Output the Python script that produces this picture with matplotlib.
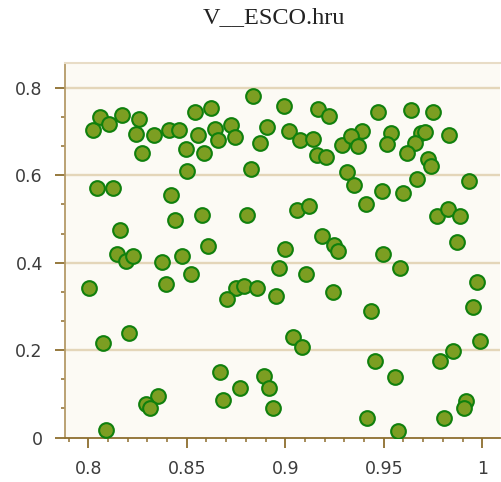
import numpy as np
import matplotlib
matplotlib.use('Agg')
from matplotlib import pyplot as plt
from matplotlib.ticker import MultipleLocator, FuncFormatter

# V__ESCO.hru sample values (x) vs objective (y)
esco_x = [0.8025, 0.8059, 0.8107, 0.8173, 0.8256, 0.8244, 0.8335, 0.8410, 0.8459, 0.8540,
          0.8273, 0.8494, 0.8558, 0.8586, 0.8503, 0.8043, 0.8124, 0.8420, 0.8439, 0.8576,
          0.8162, 0.8835, 0.8623, 0.8992, 0.9168, 0.9223, 0.8643, 0.8724, 0.8660, 0.8745,
          0.8909, 0.8873, 0.9020, 0.9075, 0.9139, 0.9159, 0.9205, 0.9286, 0.8826, 0.8807,
          0.9058, 0.9122, 0.9186, 0.9249, 0.9269, 0.8998, 0.8608, 0.9472, 0.9638, 0.9750,
          0.9388, 0.9333, 0.9371, 0.9537, 0.9518, 0.9689, 0.9709, 0.9658, 0.9619, 0.9831,
          0.9723, 0.9740, 0.9312, 0.9350, 0.9489, 0.9599, 0.9667, 0.9934, 0.9408, 0.9769,
          0.9824, 0.9887, 0.9870, 0.9498, 0.8144, 0.8191, 0.8228, 0.8374, 0.8475, 0.8523,
          0.8005, 0.8393, 0.8207, 0.8077, 0.8352, 0.8292, 0.8313, 0.8088, 0.8970, 0.9104,
          0.8749, 0.8789, 0.8855, 0.8706, 0.8953, 0.9241, 0.9039, 0.9085, 0.8669, 0.8892,
          0.8919, 0.8770, 0.8686, 0.8938, 0.9582, 0.9972, 0.9435, 0.9951, 0.9990, 0.9850,
          0.9787, 0.9454, 0.9555, 0.9916, 0.9906, 0.9416, 0.9806, 0.9574]
esco_y = [0.704, 0.733, 0.718, 0.737, 0.728, 0.695, 0.692, 0.704, 0.704, 0.746,
          0.652, 0.660, 0.692, 0.652, 0.611, 0.570, 0.570, 0.556, 0.498, 0.510,
          0.474, 0.782, 0.754, 0.759, 0.751, 0.736, 0.707, 0.714, 0.681, 0.688,
          0.711, 0.673, 0.701, 0.681, 0.683, 0.646, 0.642, 0.669, 0.615, 0.510,
          0.521, 0.529, 0.461, 0.441, 0.426, 0.431, 0.439, 0.746, 0.750, 0.746,
          0.701, 0.689, 0.668, 0.696, 0.672, 0.697, 0.698, 0.673, 0.651, 0.692,
          0.637, 0.621, 0.608, 0.578, 0.565, 0.560, 0.592, 0.588, 0.534, 0.506,
          0.524, 0.506, 0.447, 0.419, 0.421, 0.405, 0.416, 0.402, 0.416, 0.375,
          0.343, 0.352, 0.239, 0.216, 0.095, 0.077, 0.067, 0.018, 0.388, 0.374,
          0.342, 0.347, 0.342, 0.316, 0.325, 0.334, 0.230, 0.207, 0.149, 0.140,
          0.113, 0.113, 0.085, 0.068, 0.388, 0.357, 0.289, 0.298, 0.222, 0.199,
          0.176, 0.176, 0.139, 0.083, 0.067, 0.045, 0.045, 0.014]
y_major = [0, 0.2, 0.4, 0.6, 0.8]

fig = plt.figure(figsize=(5.01, 4.82), dpi=100)
ax = fig.add_axes([0.1297, 0.0913, 0.8683, 0.778])
ax.set_facecolor('#fcfaf4')

ax.scatter(esco_x, esco_y, s=112, c='#7c9e22', edgecolors='#10800d', linewidths=1.5, zorder=3)

ax.set_xlim(0.7882, 1.009)
ax.set_ylim(-0.001, 0.857)

# horizontal gridlines
for v in y_major[1:]:
    ax.axhline(v, color='#e4d6b9', lw=1.7, zorder=1)

ax.xaxis.set_major_locator(MultipleLocator(0.05))
ax.xaxis.set_minor_locator(MultipleLocator(0.01))
ax.yaxis.set_major_locator(MultipleLocator(0.2))
ax.yaxis.set_minor_locator(MultipleLocator(0.2 / 3))
ax.xaxis.set_major_formatter(FuncFormatter(lambda v, p: '%g' % round(v, 2)))
ax.yaxis.set_major_formatter(FuncFormatter(lambda v, p: '%g' % round(v, 2)))

brown = '#8e6e2e'
ax.tick_params(which='major', length=7, width=1.3, color=brown, labelsize=12.5,
               labelcolor='#3c3c3c', pad=9)
ax.tick_params(which='minor', length=3, width=1.1, color=brown)

ax.spines['right'].set_visible(False)
ax.spines['top'].set_color('#e8dcc6')
ax.spines['top'].set_linewidth(1.5)
ax.spines['left'].set_color('#b49a68')
ax.spines['left'].set_linewidth(1.3)
ax.spines['bottom'].set_color(brown)
ax.spines['bottom'].set_linewidth(1.3)

fig.text(273.5 / 501, 1 - 18 / 482, 'V__ESCO.hru', family='Liberation Serif',
         fontsize=17.5, color='#222222', ha='center', va='center')

fig.savefig('out.png', dpi=100)
